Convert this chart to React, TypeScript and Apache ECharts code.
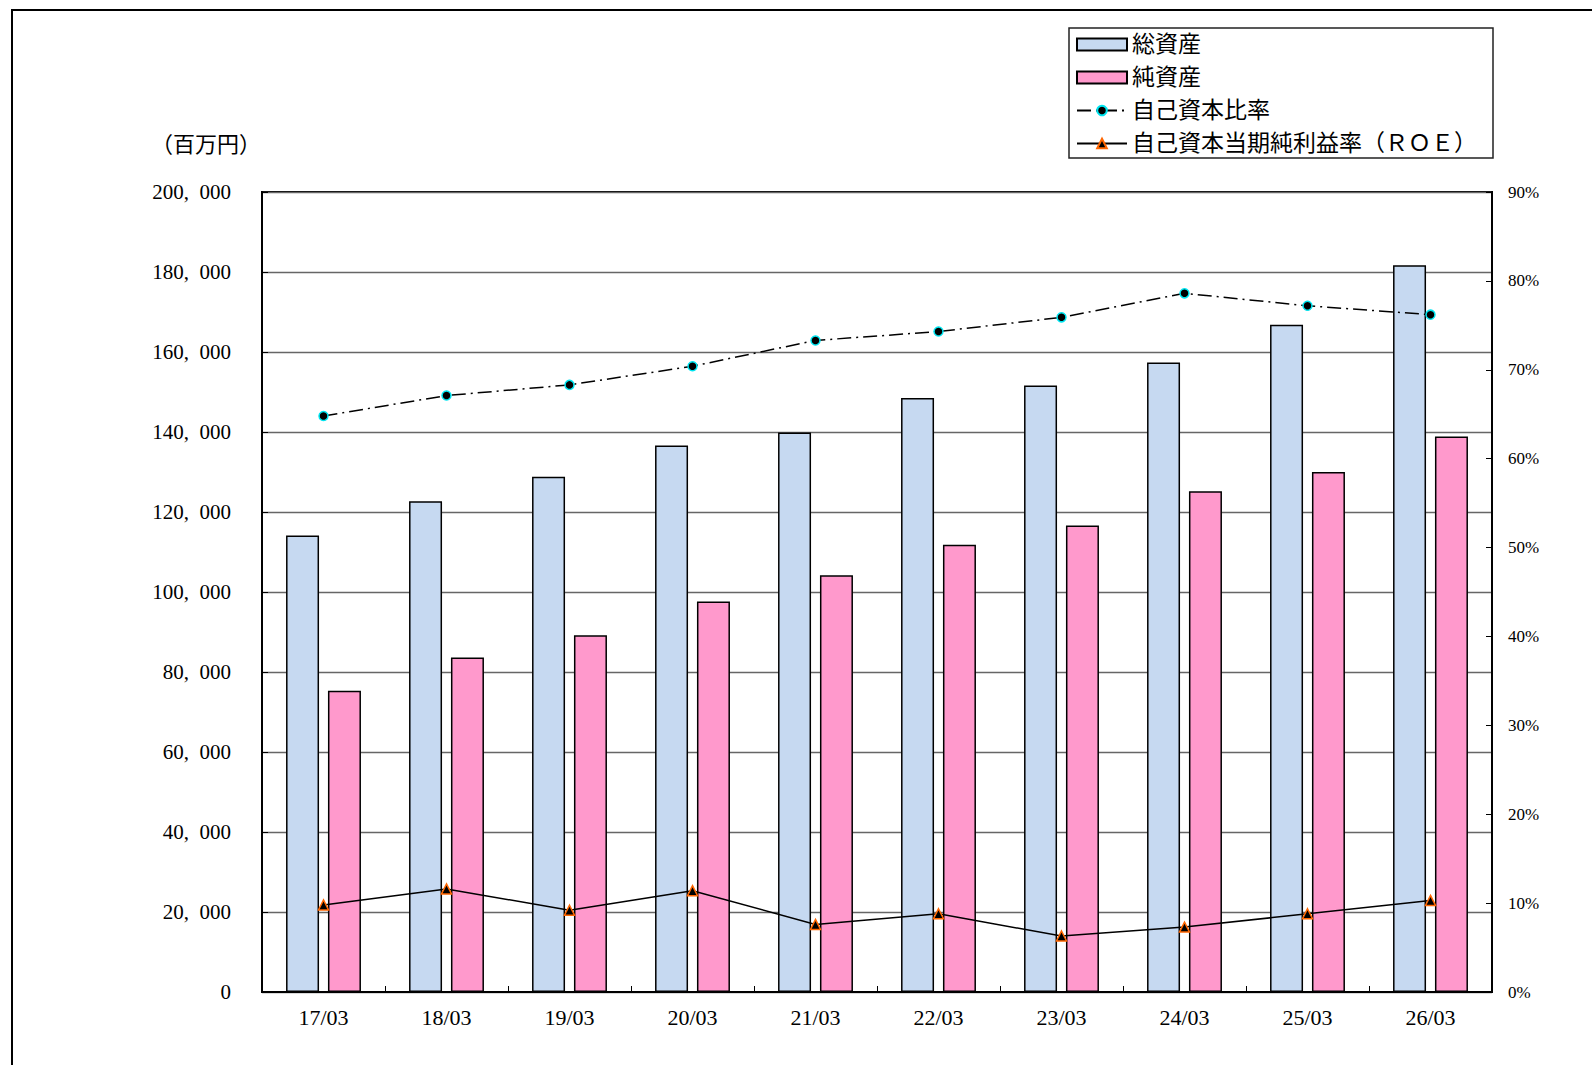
import React, { useEffect, useRef } from "react";
import * as echarts from "echarts";

const categories = ["17/03", "18/03", "19/03", "20/03", "21/03", "22/03", "23/03", "24/03", "25/03", "26/03"];
const totalAssets = [114100, 122700, 128800, 136600, 139900, 148500, 151600, 157400, 166800, 181700];
const netAssets = [75300, 83650, 89200, 97600, 104200, 111800, 116600, 125200, 130000, 138900];
const equityRatio = [64.8, 67.1, 68.3, 70.4, 73.3, 74.3, 75.9, 78.6, 77.2, 76.2];
const roe = [9.8, 11.6, 9.2, 11.4, 7.6, 8.8, 6.3, 7.3, 8.8, 10.3];

const seriesNames = ["総資産", "純資産", "自己資本比率", "自己資本当期純利益率（ＲＯＥ）"];
const unitLabel = "（百万円）";

const FONT = '"Liberation Serif", "Noto Sans CJK JP", serif';

function fmtThousands(v: number): string {
  return String(v).replace(/\B(?=(\d{3})+(?!\d))/g, ",\u2002");
}

export default function App() {
  const ref = useRef<HTMLDivElement>(null);
  useEffect(() => {
    document.body.style.margin = "0";
    if (!ref.current) return;
    const chart = echarts.init(ref.current, null, { renderer: "svg" });
    chart.setOption({
      animation: false,
      backgroundColor: "#ffffff",
      textStyle: { fontFamily: FONT, color: "#000" },
      graphic: [
        {
          type: "rect",
          shape: { x: 12, y: 10, width: 1700, height: 1200 },
          style: { fill: "none", stroke: "#000", lineWidth: 2 },
          z: -1,
        },
        {
          type: "text",
          x: 151,
          y: 144,
          style: {
            text: unitLabel,
            font: `22px ${FONT}`,
            fill: "#000",
            textVerticalAlign: "middle",
          },
        },
      ],
      legend: {
        orient: "vertical",
        left: 1069,
        top: 28,
        padding: [5, 16, 3, 7],
        itemWidth: 50,
        itemHeight: 12,
        itemGap: 10,
        borderColor: "#222",
        borderWidth: 1.5,
        backgroundColor: "#fff",
        textStyle: { fontFamily: FONT, fontSize: 23, lineHeight: 23, color: "#000" },
        data: [
          { name: seriesNames[0], icon: "rect" },
          { name: seriesNames[1], icon: "rect" },
          { name: seriesNames[2] },
          { name: seriesNames[3] },
        ],
      },
      grid: {
        left: 262,
        top: 192,
        width: 1230,
        height: 800,
        show: true,
        borderColor: "#000",
        borderWidth: 2,
        backgroundColor: "transparent",
      },
      xAxis: {
        type: "category",
        data: categories,
        axisLine: { show: true, lineStyle: { color: "#000", width: 2 } },
        axisTick: { show: true, inside: true, length: 6, lineStyle: { color: "#000", width: 1 } },
        axisLabel: { fontFamily: FONT, fontSize: 22, color: "#000", margin: 14 },
        splitLine: { show: false },
      },
      yAxis: [
        {
          type: "value",
          min: 0,
          max: 200000,
          interval: 20000,
          axisLine: { show: true, lineStyle: { color: "#000", width: 2 } },
          axisTick: { show: true, inside: true, length: 6, lineStyle: { color: "#000" } },
          axisLabel: {
            fontFamily: FONT,
            fontSize: 21,
            color: "#000",
            margin: 31,
            formatter: (v: number) => fmtThousands(v),
          },
          splitLine: { show: true, lineStyle: { color: "#666", width: 1.3 } },
        },
        {
          type: "value",
          min: 0,
          max: 90,
          interval: 10,
          position: "right",
          axisLine: { show: true, lineStyle: { color: "#000", width: 2 } },
          axisTick: { show: true, inside: true, length: 6, lineStyle: { color: "#000" } },
          axisLabel: { fontFamily: FONT, fontSize: 17, color: "#000", margin: 16, formatter: "{value}%" },
          splitLine: { show: false },
        },
      ],
      series: [
        {
          name: seriesNames[0],
          type: "bar",
          data: totalAssets,
          barWidth: 33,
          barGap: "27%",
          itemStyle: { color: "#C6D9F1", borderColor: "#000", borderWidth: 1.5 },
        },
        {
          name: seriesNames[1],
          type: "bar",
          data: netAssets,
          barWidth: 33,
          barGap: "27%",
          itemStyle: { color: "#FF99CC", borderColor: "#000", borderWidth: 1.5 },
        },
        {
          name: seriesNames[2],
          type: "line",
          yAxisIndex: 1,
          data: equityRatio,
          symbol: "circle",
          symbolSize: 9,
          lineStyle: { color: "#000", width: 1.5, type: [14, 5, 2, 5] },
          itemStyle: { color: "#000", borderColor: "#00E5F0", borderWidth: 1.5 },
          z: 5,
        },
        {
          name: seriesNames[3],
          type: "line",
          yAxisIndex: 1,
          data: roe,
          symbol: "triangle",
          symbolSize: 10,
          lineStyle: { color: "#000", width: 1.5 },
          itemStyle: { color: "#000", borderColor: "#FF6600", borderWidth: 1.5 },
          z: 5,
        },
      ],
    });
    return () => chart.dispose();
  }, []);
  return <div ref={ref} style={{ position: "absolute", left: 0, top: 0, width: 1592, height: 1065 }} />;
}
